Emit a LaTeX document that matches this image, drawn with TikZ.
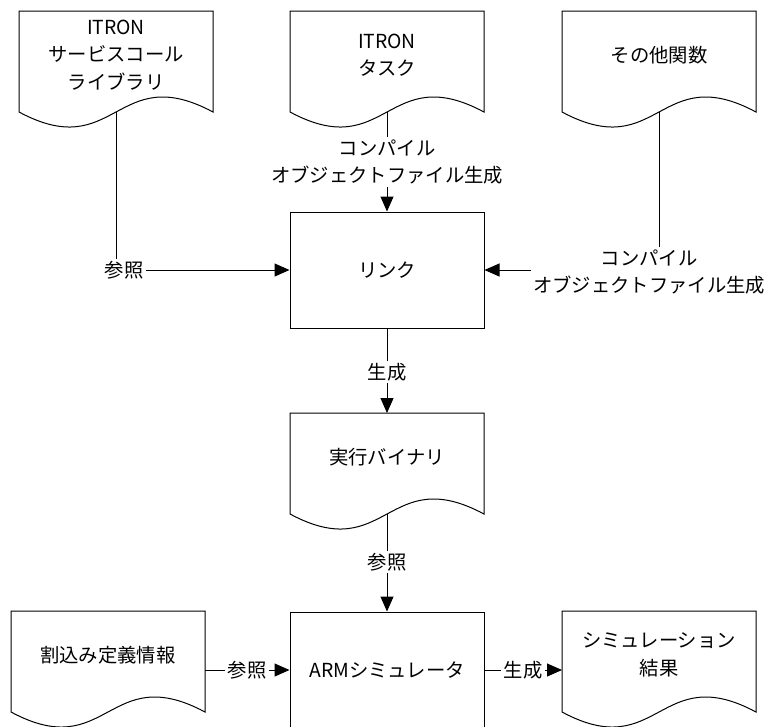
\documentclass[tikz,border=0pt]{standalone}
\usepackage{fontspec}
\setmainfont{Noto Sans CJK JP}
\usetikzlibrary{arrows.meta,calc}

% Document outline round a text node.
\newcommand\docshape[1]{%
	\draw ($(#1.center)+(-97,-44)$) coordinate (#1-nw) -- ($(#1.center)+(97,-44)$) coordinate (#1-ne)
		-- ($(#1.center)+(97,57)$) .. controls ($(#1.center)+(0,5)$) and ($(#1.center)+(0,109)$) .. ($(#1.center)+(-97,57)$) -- cycle;
	\coordinate (#1-n) at ($(#1.center)+(0,-44)$);
	\coordinate (#1-b) at ($(#1.center)+(0,57)$);}

\tikzset{
	txt/.style={font=\fontsize{14.5pt}{20.6pt}\selectfont, align=center, inner sep=1.5pt},
	box/.style={txt, draw, minimum width=145.5pt, minimum height=87pt},
	arr/.style={-{Triangle[length=11.25pt,width=9.75pt]}}
}

\begin{document}
\begin{tikzpicture}[x=0.75pt,y=-0.75pt,line width=0.75pt]
		\useasboundingbox (0,0) rectangle (764,726);
		% Documents.
		\node[txt] (lib) at (116,55) {ITRON\\サービスコール\\ライブラリ};		\docshape{lib}
		\node[txt] (task) at (387,55) {ITRON\\タスク};		\docshape{task}
		\node[txt] (misc) at (659,55) {その他関数};		\docshape{misc}
		\node[txt] (bin) at (387,457) {実行バイナリ};		\docshape{bin}
		\node[txt] (intr) at (108,655) {割込み定義情報};		\docshape{intr}
		\node[txt] (res) at (659,655) {シミュレーション\\結果};		\docshape{res}
		% Processes.
		\node[box] (link) at (387,270) {リンク};
		\node[box] (arm) at (387,670) {ARMシミュレータ};
		% Labels.
		\node[txt] (ref1) at (124,270) {参照};
		\node[txt] (cmp1) at (387,162) {コンパイル\\オブジェクトファイル生成};
		\node[txt] (cmp2) at (649,272) {コンパイル\\オブジェクトファイル生成};
		\node[txt] (gen1) at (387,372) {生成};
		\node[txt] (ref2) at (387,562) {参照};
		\node[txt] (ref3) at (247,670) {参照};
		\node[txt] (gen2) at (523,670) {生成};
		% Connectors.
		\draw (lib-b) -- (lib-b |- ref1.north);
		\draw[arr] (ref1) -- (link);
		\draw (task-b) -- (cmp1);
		\draw[arr] (cmp1) -- (link);
		\draw (misc-b) -- (misc-b |- cmp2.north);
		\draw[arr] (cmp2.west |- link) -- (link);
		\draw (link) -- (gen1);
		\draw[arr] (gen1) -- (bin-n);
		\draw (bin-b) -- (ref2);
		\draw[arr] (ref2) -- (arm);
		\draw (ref3) -- (ref3 -| intr-ne);
		\draw[arr] (ref3) -- (arm);
		\draw (arm) -- (gen2);
		\draw[arr] (gen2) -- (gen2 -| res-nw);
	\end{tikzpicture}
\end{document}
